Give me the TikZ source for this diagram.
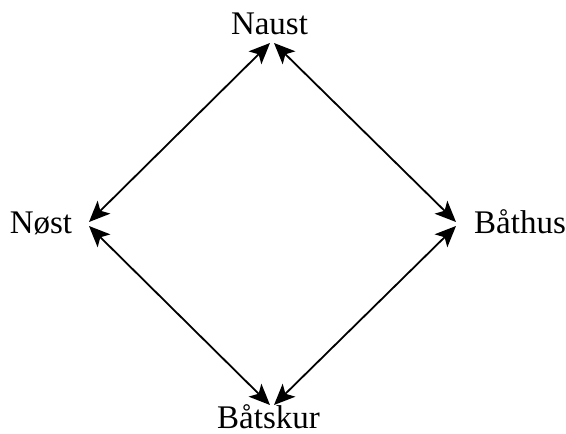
\documentclass[tikz,border=0pt]{standalone}
\usepackage{fontspec}
\setmainfont{Liberation Serif}
\usetikzlibrary{arrows.meta}
\begin{document}
\begin{tikzpicture}[x=1pt,y=-1pt,
  label/.style={anchor=base,inner sep=0pt,font=\fontsize{33}{38}\selectfont},
  link/.style={line width=1.8pt,{Stealth[length=21pt,width=18pt,inset=5pt]}-{Stealth[length=21pt,width=18pt,inset=5pt]}}]
  \useasboundingbox (0,0) rectangle (566,434);
  % place names
  \node[label] (naust) at (269.5,34) {Naust};
  \node[label] (nost) at (41,233) {Nøst};
  \node[label] (bathus) at (520,233) {Båthus};
  \node[label] (batskur) at (268.5,428) {Båtskur};
  % arrow end points beside each name
  \coordinate (nw) at (270,43);
  \coordinate (ne) at (274,43);
  \coordinate (wn) at (89,222);
  \coordinate (ws) at (89,226);
  \coordinate (en) at (456,222);
  \coordinate (es) at (456,226);
  \coordinate (sw) at (270,405);
  \coordinate (se) at (274,405);
  % links
  \draw[link] (nw) -- (wn);
  \draw[link] (ne) -- (en);
  \draw[link] (ws) -- (sw);
  \draw[link] (es) -- (se);
\end{tikzpicture}
\end{document}
